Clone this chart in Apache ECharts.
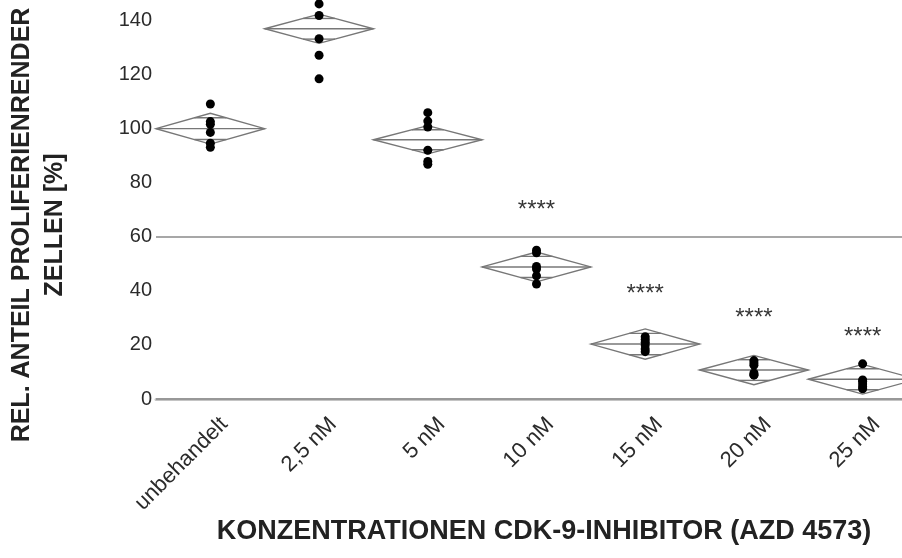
<!DOCTYPE html>
<html>
<head>
<meta charset="utf-8">
<script src="https://cdn.jsdelivr.net/npm/echarts@6/dist/echarts.min.js"></script>
<style>
html,body{margin:0;padding:0;background:#fff;}
#chart{width:902px;height:558px;}
</style>
</head>
<body>
<div id="chart"></div>
<script>
// ---- data ----
const categories = ['unbehandelt', '2,5 nM', '5 nM', '10 nM', '15 nM', '20 nM', '25 nM'];
const meanValues = [99.9, 136.8, 95.8, 48.8, 20.3, 10.7, 7.3];
const ciHalfWidth = [5.7, 5.4, 5.2, 5.5, 5.6, 5.4, 5.5];
const pointsUnbehandelt = [109, 102.5, 101.5, 98.5, 94.5, 93];
const points2_5nM = [155, 146, 141.7, 133.1, 127, 118.3];
const points5nM = [105.8, 102.7, 100.5, 91.9, 87.8, 86.7];
const points10nM = [55, 54, 49, 48, 45.5, 42.5];
const points15nM = [23, 22, 21, 20, 18.5, 17.5];
const points20nM = [14.2, 13.3, 12.5, 9.6, 9, 8.8];
const points25nM = [13, 7, 6.5, 5.5, 4.5, 3.8];
const significance = ['', '', '', '****', '****', '****', '****'];
const significanceY = [null, null, null, 69.7, 38.7, 29.8, 22.8];
const referenceLines = [0, 60];
const yTickMin = 0, yTickMax = 160, yTickStep = 20;

const groupPoints = [pointsUnbehandelt, points2_5nM, points5nM, points10nM, points15nM, points20nM, points25nM];

const FONT = "'Liberation Sans', Arial, Helvetica, sans-serif";
const chart = echarts.init(document.getElementById('chart'), null, {renderer: 'canvas'});

const scatterData = [];
groupPoints.forEach((arr, i) => arr.forEach(v => scatterData.push([i, v])));
const diamondData = meanValues.map((m, i) => [i, m, ciHalfWidth[i]]);
const sigData = [];
significance.forEach((s, i) => { if (s) sigData.push({name: s, value: [i, significanceY[i]]}); });
const catLabelData = categories.map((c, i) => [i, yTickMin]);

const DIAMOND_COLOR = '#777777';

function renderDiamond(params, api) {
  const i = api.value(0), m = api.value(1), h = api.value(2);
  const c = api.coord([i, m]);
  const top = api.coord([i, m + h])[1];
  const bot = api.coord([i, m - h])[1];
  const hw = api.size([1, 0])[0] / 2;
  const om = h * Math.SQRT1_2;
  const oTop = api.coord([i, m + om])[1];
  const oBot = api.coord([i, m - om])[1];
  const ow = hw * (1 - Math.SQRT1_2);
  const st = {stroke: DIAMOND_COLOR, lineWidth: 1.4, fill: null};
  return {
    type: 'group',
    children: [
      {type: 'polygon', shape: {points: [[c[0] - hw, c[1]], [c[0], top], [c[0] + hw, c[1]], [c[0], bot]]}, style: {stroke: DIAMOND_COLOR, lineWidth: 1.4, fill: 'rgba(0,0,0,0)'}},
      {type: 'line', shape: {x1: c[0] - hw, y1: c[1], x2: c[0] + hw, y2: c[1]}, style: st},
      {type: 'line', shape: {x1: c[0] - ow, y1: oTop, x2: c[0] + ow, y2: oTop}, style: st},
      {type: 'line', shape: {x1: c[0] - ow, y1: oBot, x2: c[0] + ow, y2: oBot}, style: st}
    ]
  };
}

// rotated category labels, placed from the category axis coordinates
function renderCatLabel(params, api) {
  const i = api.value(0);
  const p = api.coord([i, api.value(1)]);
  return {
    type: 'text',
    x: p[0] + 14,
    y: p[1] + 22,
    rotation: Math.PI / 4,
    style: {
      text: categories[i],
      font: '22px ' + FONT,
      fill: '#2b2b2b',
      align: 'right',
      verticalAlign: 'middle'
    }
  };
}

const option = {
  animation: false,
  backgroundColor: '#ffffff',
  grid: {left: 156, width: 761, top: -34, height: 433, containLabel: false, outerBoundsMode: 'none'},
  xAxis: {
    type: 'category',
    data: categories,
    offset: 2,
    axisLine: {show: true, lineStyle: {color: '#c4c4c4', width: 3}},
    axisTick: {show: false},
    axisLabel: {show: false},
    splitLine: {show: false}
  },
  yAxis: {
    type: 'value',
    min: yTickMin, max: yTickMax, interval: yTickStep,
    axisLine: {show: false},
    axisTick: {show: false},
    splitLine: {show: false},
    axisLabel: {color: '#2b2b2b', fontFamily: FONT, fontSize: 20, margin: 4}
  },
  graphic: [
    {
      type: 'text', x: 39, y: 225, rotation: Math.PI / 2,
      style: {
        text: 'REL. ANTEIL PROLIFERIENRENDER\nZELLEN [%]',
        font: 'bold 25px ' + FONT, fill: '#222', align: 'center', verticalAlign: 'middle',
        lineHeight: 33
      }
    },
    {
      type: 'text', x: 544, y: 532,
      style: {
        text: 'KONZENTRATIONEN CDK-9-INHIBITOR (AZD 4573)',
        font: 'bold 27px ' + FONT, fill: '#222', align: 'center', verticalAlign: 'middle'
      }
    }
  ],
  series: [
    {
      type: 'custom',
      renderItem: renderDiamond,
      data: diamondData,
      z: 2,
      silent: true,
      clip: false,
      markLine: {
        silent: true, symbol: 'none', label: {show: false},
        lineStyle: {color: '#8a8a8a', width: 1.5, type: 'solid'},
        data: referenceLines.map(v => ({yAxis: v}))
      }
    },
    {
      type: 'scatter',
      data: scatterData,
      symbol: 'circle', symbolSize: 9,
      itemStyle: {color: '#000', opacity: 1},
      z: 3,
      clip: false
    },
    {
      type: 'scatter',
      data: sigData,
      symbol: 'circle', symbolSize: 1,
      itemStyle: {color: 'rgba(0,0,0,0)'},
      label: {show: true, position: 'inside', formatter: '{b}', color: '#000', fontFamily: FONT, fontSize: 24},
      z: 4
    },
    {
      type: 'custom',
      renderItem: renderCatLabel,
      data: catLabelData,
      silent: true,
      clip: false,
      z: 5
    }
  ]
};
chart.setOption(option);
</script>
</body>
</html>
